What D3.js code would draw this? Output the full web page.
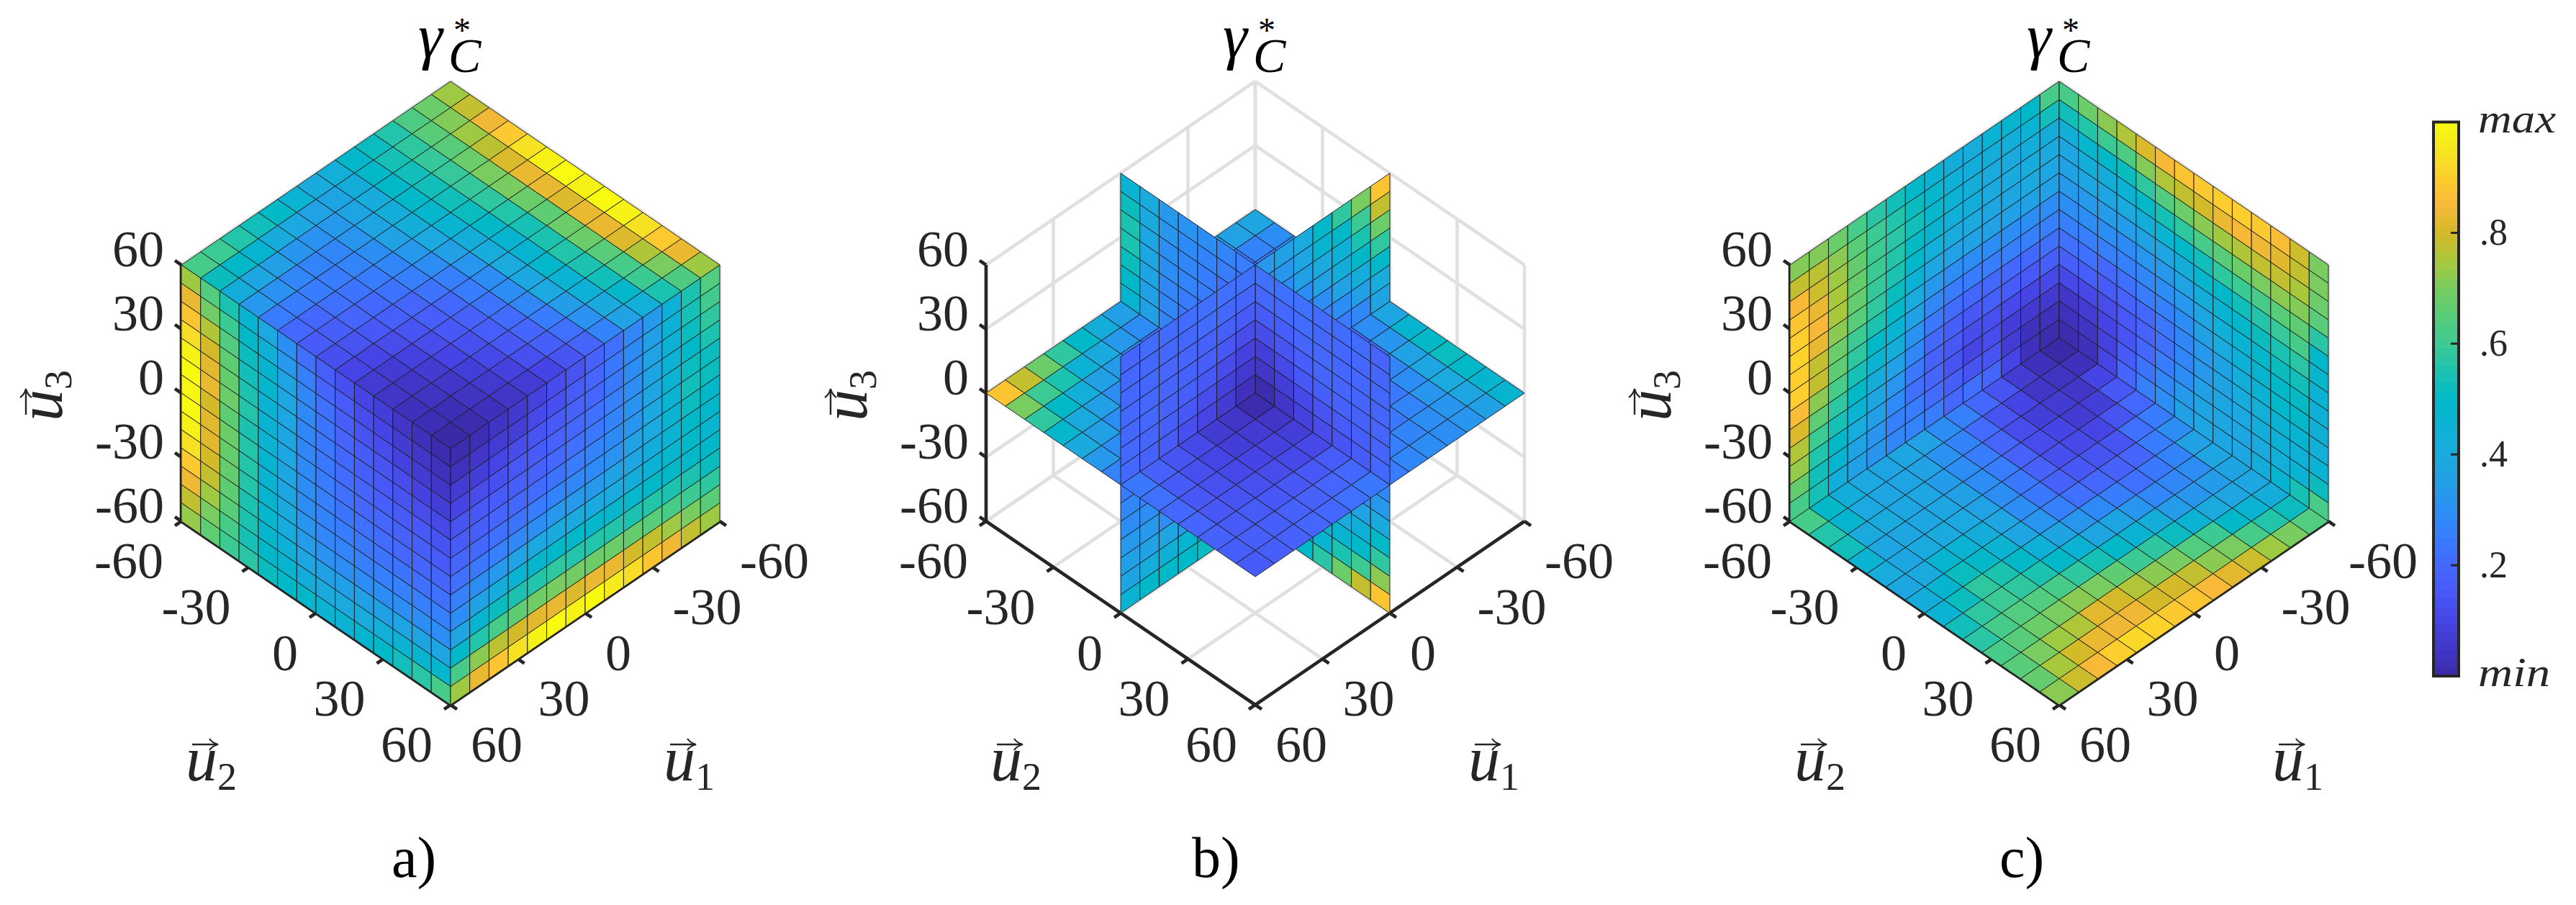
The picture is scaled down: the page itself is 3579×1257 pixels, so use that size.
<!DOCTYPE html>
<html><head><meta charset="utf-8">
<style>html,body{margin:0;padding:0;background:#fff}svg{display:block}</style>
<script src="https://cdn.jsdelivr.net/npm/d3@7"></script>
</head><body><svg id="c" width="3579" height="1257"></svg>
<script>
// ---- data: gamma_C*, in percent of the colour range ----
const axisTicks=[-60,-30,0,30,60];
const barTicks=[20,40,60,80];
const barTickLabels=[".2",".4",".6",".8"];
const barEnds=["min","max"];
const panelNames=["a)","b)","c)"];

// a) top face u3=60, rows u1 from -60, columns u2 from -60
const aTop=[
[74,78,84,89,94,98,100,98,100,98,94,89,83,74],
[68,71,74,77,81,83,83,81,83,83,81,76,70,63],
[63,65,65,68,70,70,68,66,68,68,65,62,60,55],
[56,58,59,59,59,58,56,54,55,56,55,53,49,43],
[52,54,53,53,53,52,50,47,47,49,46,44,40,36],
[49,50,50,50,48,46,42,41,40,39,39,34,31,27],
[43,42,41,42,42,39,35,32,30,30,28,25,22,19],
[41,37,37,37,36,33,30,26,25,23,21,19,17,14],
[46,36,33,32,30,28,26,23,20,18,17,15,13,10],
[50,39,31,28,27,25,23,19,17,15,13,11,9,7],
[53,41,32,27,25,23,20,17,14,12,10,8,6,5],
[56,47,35,28,25,22,19,15,12,9,7,5,4,3],
[60,50,38,31,25,20,17,14,10,7,5,4,2,1],
[62,52,42,33,25,20,16,13,10,7,5,3,2,0]];
// a) left face u1=60, rows u3 from 60, columns u2 from -60
const aLeft=[
[74,64,55,47,39,30,22,17,13,10,8,5,3,1],
[83,69,60,50,44,33,26,19,16,12,10,7,5,3],
[88,76,64,52,47,37,28,22,17,14,12,9,7,5],
[93,80,66,53,48,38,29,23,19,16,14,12,9,8],
[98,82,67,55,46,38,28,24,20,17,15,14,12,11],
[100,83,68,56,46,38,28,24,21,19,17,16,15,14],
[99,80,66,55,46,38,29,25,22,20,19,18,17,16],
[100,82,68,56,47,38,30,26,23,22,21,20,19,19],
[98,82,67,56,46,38,30,27,25,24,23,23,22,22],
[94,80,67,56,47,40,32,28,27,26,26,26,26,26],
[89,78,66,55,48,41,34,31,30,30,30,30,30,30],
[84,74,65,55,48,44,38,35,35,35,35,37,37,38],
[78,70,62,54,50,47,42,40,40,41,43,45,47,48],
[73,66,60,57,52,50,49,46,45,47,50,53,57,62]];
// a) right face u2=60, rows u3 from 60, columns u1 from 60
const aRight=[
[1,2,4,6,9,12,14,18,22,28,33,44,55,64],
[3,5,7,8,11,13,16,19,24,29,35,45,54,61],
[7,8,10,12,14,16,18,20,24,30,36,45,52,58],
[10,12,13,15,16,18,20,22,26,30,37,45,50,55],
[14,15,16,17,18,20,22,24,27,31,38,46,52,52],
[16,17,19,20,21,23,25,27,29,32,39,46,53,52],
[19,20,22,23,25,27,28,29,31,36,40,46,52,50],
[22,24,26,28,30,33,33,33,36,38,42,46,50,49],
[26,30,33,36,39,40,40,40,40,42,45,48,50,48],
[30,36,42,46,48,50,49,48,48,48,50,50,50,50],
[38,47,52,55,56,58,56,56,56,55,56,55,55,52],
[50,56,62,66,69,70,69,68,68,67,65,62,60,58],
[62,72,77,80,82,83,81,83,83,80,78,74,70,65],
[74,83,88,94,98,100,98,100,96,93,88,84,78,74]];

// b) plane u1=0, rows u3 from 60, columns u2 from -60
const bPlane1=[
[46,40,33,31,30,27,25,22,22,22,21,21,21,19],
[52,40,32,29,27,25,23,20,20,21,20,20,20,19],
[55,38,30,28,25,22,20,16,17,19,20,20,20,20],
[55,38,30,27,25,20,17,12,14,17,19,19,19,19],
[52,37,28,25,22,16,12,8,11,15,17,18,18,19],
[50,35,28,23,20,13,8,5,8,11,14,16,17,19],
[47,35,27,22,18,10,4,1,5,9,12,14,16,20],
[40,33,25,20,15,9,4,3,6,10,15,20,27,28],
[40,33,26,21,16,12,8,8,12,17,22,27,30,33],
[42,35,28,24,20,15,13,14,20,25,30,33,36,40],
[45,37,30,27,23,20,18,22,28,35,40,40,44,50],
[47,40,32,28,26,24,22,32,38,43,45,47,50,58],
[48,42,35,30,28,26,26,40,44,48,47,55,60,72],
[50,45,38,33,30,28,28,45,48,50,57,68,78,88]];
// b) plane u2=0, rows u3 from 60, columns u1 from 60
const bPlane2=[
[19,21,21,21,22,22,22,33,35,40,50,58,70,88],
[20,20,20,20,21,20,19,30,32,38,47,50,60,78],
[20,20,19,19,18,17,16,27,30,35,40,44,55,68],
[20,20,19,18,17,15,12,25,28,30,36,42,50,58],
[20,20,18,17,15,12,9,22,25,27,30,36,42,50],
[20,19,17,15,12,9,6,18,22,23,25,30,35,41],
[20,18,16,13,10,7,3,5,15,20,22,25,28,37],
[25,25,20,15,10,7,4,5,10,15,20,22,25,28],
[28,27,22,18,13,10,8,10,15,20,22,25,28,30],
[30,30,25,22,18,14,12,14,18,22,25,28,30,33],
[33,33,30,26,22,18,15,18,22,25,28,30,33,35],
[35,36,38,34,30,26,22,22,25,28,30,33,35,38],
[37,42,44,47,42,36,30,28,30,32,34,36,38,40],
[46,50,50,50,52,45,38,34,35,36,38,40,42,44]];
// b) plane u3=0, rows u1 from -60, columns u2 from -60
const bPlane3=[
[38,30,28,28,28,30,32,38,47,50,52,50,47,47],
[36,27,24,24,24,26,28,30,32,36,38,40,38,35],
[34,24,20,18,18,18,18,20,23,28,30,32,32,32],
[32,24,18,15,13,13,13,14,17,20,24,27,30,30],
[33,26,18,13,10,9,9,9,12,16,20,24,27,30],
[36,28,18,13,9,6,5,5,8,12,18,23,26,28],
[38,30,20,14,9,5,2,2,5,9,14,20,24,25],
[35,30,22,15,10,5,2,1,5,8,11,16,20,24],
[42,33,28,20,14,9,5,5,7,9,11,15,19,22],
[50,40,34,28,20,14,9,7,8,10,12,15,18,20],
[58,45,35,30,24,18,13,11,10,11,13,15,18,19],
[68,55,43,35,30,24,18,14,13,13,14,16,17,18],
[78,60,50,40,35,30,24,18,16,15,15,16,17,17],
[88,70,58,48,40,33,27,24,22,20,19,18,17,16]];

// c) floor u3=-60, rows u1 from -60, columns u2 from -60
const cFloor=[
[0,3,10,15,20,25,30,36,38,37,38,42,52,64],
[3,4,5,8,14,22,25,27,30,34,38,46,56,70],
[7,5,7,7,10,14,19,24,28,32,40,50,62,74],
[14,10,8,10,11,14,18,22,28,34,45,60,70,79],
[20,14,12,12,13,15,20,25,32,42,52,64,72,82],
[26,21,19,18,18,18,22,29,37,46,58,70,78,85],
[30,27,25,25,24,24,26,32,38,50,60,72,80,88],
[36,31,30,30,30,30,32,37,45,54,66,76,80,89],
[38,36,34,35,36,38,38,44,50,58,70,80,84,91],
[37,37,38,38,39,42,46,50,55,62,72,82,84,92],
[39,38,38,38,40,46,50,55,58,64,70,76,83,90],
[42,39,40,38,40,47,52,58,60,64,68,74,80,85],
[50,47,40,38,38,40,47,52,58,62,65,70,75,79],
[62,56,53,46,41,38,42,46,53,57,62,65,67,72]];
// c) left wall u2=-60, one row per column from u1=60 to -60, values from u3=60 down
const cLeft=[
[71,78,85,88,90,91,90,90,86,81,76,73,67,62],
[71,77,79,83,85,83,78,78,72,66,60,56,53,54],
[68,72,74,75,75,72,68,66,62,58,54,50,47,42],
[62,65,67,67,67,65,60,58,54,50,46,41,37,35],
[57,60,60,60,59,58,55,50,46,42,38,35,32,32],
[53,56,57,56,55,52,50,46,42,35,32,29,26,28],
[50,52,53,51,49,45,40,36,31,28,24,22,25,27],
[46,48,48,47,43,38,33,28,24,20,18,19,21,25],
[42,44,45,43,40,36,30,25,21,17,15,14,17,20],
[41,42,42,42,40,36,30,25,20,15,12,10,14,22],
[45,42,40,40,38,35,30,25,20,17,13,12,14,19],
[47,42,40,40,38,35,30,26,20,16,11,8,7,10],
[50,46,42,41,40,35,30,26,20,15,10,6,3,3],
[62,53,42,40,38,35,30,26,22,17,11,6,3,1]];
// c) right wall u1=-60, one row per column from u2=-60 to 60, values from u3=60 down
const cRight=[
[62,53,43,38,36,33,30,26,22,17,11,5,3,1],
[68,56,48,42,38,33,30,26,22,17,11,7,4,3],
[72,60,50,42,38,34,30,26,20,16,12,10,9,10],
[76,63,52,45,40,34,29,26,22,18,15,14,16,19],
[81,71,58,50,42,36,32,28,25,20,18,20,23,26],
[85,76,64,54,46,38,33,30,26,24,22,25,28,30],
[88,78,68,58,50,42,36,33,30,28,28,30,33,35],
[89,80,72,62,53,48,42,38,35,33,33,35,37,38],
[90,83,74,65,58,50,46,43,40,37,37,38,38,38],
[90,85,76,68,60,53,49,46,44,42,41,39,38,38],
[89,84,78,70,62,56,52,49,47,45,43,42,40,42],
[86,82,78,72,65,59,55,52,50,49,46,44,43,47],
[79,78,75,71,66,62,57,53,51,50,47,44,46,54],
[70,70,68,65,57,50,48,46,44,44,43,45,52,62]];

// ---- colour scale, sampled from the colour bar ----
const colourStops=[0,5,10,15,20,25,30,35,40,45,50,55,60,65,70,75,80,85,90,95,100];
const colourHex=["#3b2aa8","#4136c8","#4644e4","#4858f6","#4468ff","#387cff","#2c8ef4","#22a0e6","#1aaade","#0cb2d4","#00b8c8","#1cc2b0","#3cca94","#58cc78","#78cc60","#a8c83c","#d4ba28","#f8b838","#fdce2e","#f6e620","#f8fa10"];
const colour=d3.scaleLinear().domain(colourStops).range(colourHex).interpolate(d3.interpolateRgb);

// ---- layout ----
const svg=d3.select("#c");
const INK="#262626";
const frac=d3.scaleLinear().domain([-60,60]).range([0,1]);      // axis value -> 0..1
const cell=d3.scaleLinear().domain([0,14]).range([0,1]);        // grid index -> 0..1
const halfW=374, stepY=255, zH=356, bottomY=979;
function projector(cx){
  return (a,b,c)=>[cx+halfW*(b-a), bottomY-2*stepY+stepY*(a+b)-zH*c];
}
function poly(P,corners){return corners.map(q=>P(...q).map(v=>v.toFixed(2)).join(",")).join(" ");}

function drawFrame(g,P){
  const grid=g.append("g").attr("stroke","#e0e0e0").attr("stroke-width",4.6).attr("fill","none");
  axisTicks.forEach(t=>{
    const f=frac(t);
    [[[f,0,0],[f,0,1]],[[0,f,0],[0,f,1]],[[1,0,f],[0,0,f]],[[0,0,f],[0,1,f]],[[f,0,0],[f,1,0]],[[0,f,0],[1,f,0]]].forEach(seg=>{
      const [p,q]=[P(...seg[0]),P(...seg[1])];
      grid.append("line").attr("x1",p[0]).attr("y1",p[1]).attr("x2",q[0]).attr("y2",q[1]);
    });
  });
  const ax=g.append("g").attr("stroke",INK).attr("stroke-width",4.6).attr("fill","none");
  const seg=(A,B)=>{const p=P(...A),q=P(...B);ax.append("line").attr("x1",p[0]).attr("y1",p[1]).attr("x2",q[0]).attr("y2",q[1]);};
  seg([1,0,0],[1,0,1]);seg([1,0,0],[1,1,0]);seg([0,1,0],[1,1,0]);
  const tl=0.024;
  axisTicks.forEach(t=>{
    const f=frac(t);
    seg([1,0,f],[1,-tl,f]);
    seg([1,f,0],[1+tl,f,0]);
    seg([f,1,0],[f,1+tl,0]);
  });
}
function drawLabels(g,P,cx,name){
  const tk=g.append("g").attr("font-size",72);
  axisTicks.forEach(t=>{
    const f=frac(t);
    let p=P(1,0,f);
    tk.append("text").attr("x",p[0]-24).attr("y",p[1]-22+24).attr("text-anchor","end").text(t);
    p=P(1,f,0);
    tk.append("text").attr("x",p[0]-25).attr("y",p[1]+55+24).attr("text-anchor","end").text(t);
    p=P(f,1,0);
    tk.append("text").attr("x",p[0]+28).attr("y",p[1]+55+24).attr("text-anchor","start").text(t);
  });
  const vec=(x,y,rot,sub)=>{
    const l=g.append("g").attr("transform",`translate(${x},${y}) rotate(${rot})`);
    const t=l.append("text").attr("x",0).attr("y",0);
    t.append("tspan").attr("font-size",88).attr("font-style","italic").text("u");
    t.append("tspan").attr("font-size",54).attr("dx",0).attr("dy",13).text(sub);
    // the vector arrow over the u
    l.append("path").attr("d","M9,-50H42").attr("stroke",INK).attr("stroke-width",2.4).attr("fill","none");
    l.append("path").attr("d","M33,-58Q37,-52 45,-50Q37,-48 33,-42").attr("stroke",INK).attr("stroke-width",2.2).attr("fill","none");
  };
  vec(cx-368,1084,0,"2");
  vec(cx+296,1084,0,"1");
  vec(cx-540,585,-90,"3");
  const gamma=g.append("text").attr("y",78).attr("class","blk");
  gamma.append("tspan").attr("x",cx-45).attr("y",79).attr("font-size",86).attr("font-style","italic").text("\u03b3");
  gamma.append("tspan").attr("x",cx+4).attr("y",58).attr("font-size",48).text("*");
  gamma.append("tspan").attr("x",cx-3).attr("y",100).attr("font-size",68).attr("font-style","italic").text("C");
  g.append("text").attr("class","blk").attr("x",cx-(name==="b)"?88:name==="c)"?83:82)).attr("y",1218).attr("font-size",80).text(name);
}
// face list: values[r][s] with corner function (r,s fractional grid index) -> [a,b,c]
function cells(values,at){
  const out=[];
  values.forEach((row,r)=>row.forEach((v,s)=>{
    const fn=(x,y)=>at(cell(x),cell(y));
    out.push({v,corners:[fn(r,s),fn(r+1,s),fn(r+1,s+1),fn(r,s+1)],mid:fn(r+.5,s+.5)});
  }));
  return out;
}
function drawCells(g,P,list){
  g.append("g").selectAll("polygon").data(list).join("polygon")
    .attr("points",d=>poly(P,d.corners))
    .attr("fill",d=>colour(d.v))
    .attr("stroke","#1c1c1c").attr("stroke-width",0.95).attr("stroke-linejoin","round");
}
const centres=[626,1744,2861];

// a)
{const cx=centres[0],P=projector(cx),g=svg.append("g");
 drawFrame(g,P);
 drawCells(g,P,[
  ...cells(aTop,(r,s)=>[r,s,1]),
  ...cells(aLeft,(r,s)=>[1,s,1-r]),
  ...cells(aRight,(r,s)=>[1-s,1,1-r])]);
 drawLabels(g,P,cx,panelNames[0]);}
// b) planes split at the centre: far half first
{const cx=centres[1],P=projector(cx),g=svg.append("g");
 drawFrame(g,P);
 const side=v=>v<.5-1e-6?0:(v>.5+1e-6?2:1);
 const list=[
  ...cells(bPlane1,(r,s)=>[.5,s,1-r]),
  ...cells(bPlane2,(r,s)=>[1-s,.5,1-r]),
  ...cells(bPlane3,(r,s)=>[r,s,.5])];
 list.forEach(d=>{d.key=side(d.mid[0])*9+side(d.mid[1])*3+side(d.mid[2]);});
 list.sort((p,q)=>p.key-q.key);
 drawCells(g,P,list);
 drawLabels(g,P,cx,panelNames[1]);}
// c)
{const cx=centres[2],P=projector(cx),g=svg.append("g");
 drawFrame(g,P);
 drawCells(g,P,[
  ...cells(cFloor,(r,s)=>[r,s,0]),
  ...cells(cLeft,(r,s)=>[1-r,0,1-s]),
  ...cells(cRight,(r,s)=>[0,r,1-s])]);
 drawLabels(g,P,cx,panelNames[2]);}

// colour bar
{const y=d3.scaleLinear().domain([0,100]).range([939,169.5]);
 const x0=3381,x1=3416,g=svg.append("g");
 const levels=d3.range(64);
 const lv=d3.scaleLinear().domain([0,64]).range([0,100]);
 g.append("g").selectAll("rect").data(levels).join("rect")
  .attr("x",x0).attr("width",x1-x0)
  .attr("y",d=>y(lv(d+1))).attr("height",d=>y(lv(d))-y(lv(d+1))+.6)
  .attr("fill",d=>colour(lv(d+.5)));
 g.append("rect").attr("x",x0).attr("y",y(100)).attr("width",x1-x0).attr("height",y(0)-y(100))
  .attr("fill","none").attr("stroke",INK).attr("stroke-width",4);
 barTicks.forEach((t,i)=>{
  g.append("line").attr("x1",x1-11).attr("x2",x1).attr("y1",y(t)).attr("y2",y(t)).attr("stroke",INK).attr("stroke-width",3);
  g.append("text").attr("x",3445).attr("y",y(t)+17).attr("font-size",52).text(barTickLabels[i]);
 });
 g.append("text").attr("x",3443).attr("y",953).attr("font-size",56).attr("font-style","italic").attr("textLength",100).attr("lengthAdjust","spacingAndGlyphs").text(barEnds[0]);
 g.append("text").attr("x",3443).attr("y",184).attr("font-size",56).attr("font-style","italic").attr("textLength",108).attr("lengthAdjust","spacingAndGlyphs").text(barEnds[1]);
}
// every text in the same serif face
svg.selectAll("text").attr("font-family","Liberation Serif").attr("fill",function(){return d3.select(this).classed("blk")?"#000":INK;});
</script></body></html>
